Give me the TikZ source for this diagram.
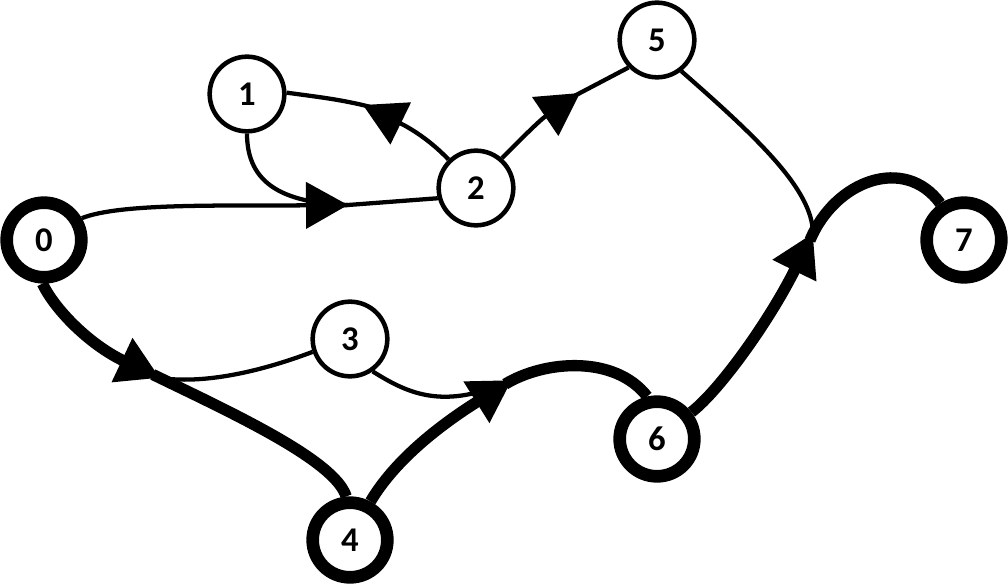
\documentclass[tikz,border=0pt]{standalone}
\usepackage{fontspec}
\setmainfont{Carlito}
\usetikzlibrary{arrows.meta}
\begin{document}
\begin{tikzpicture}[x=0.75pt,y=-0.75pt,
  vert/.style={circle, draw, minimum size=56pt, inner sep=0pt, fill=white,
    font=\fontsize{26}{30}\selectfont\bfseries},
  thinv/.style={vert, line width=3.4pt},
  thickv/.style={vert, line width=9.5pt},
  thinedge/.style={line width=3.2pt},
  thickedge/.style={line width=8.5pt},
  fromtip/.style={shorten <=-6pt},
  arrowend/.style={-{Triangle[length=31.5pt,width=34.5pt]}}]
\useasboundingbox (0,0) rectangle (1008,585);
% nodes
\node[thickv] (n0) at (44,240) {0};
\node[thinv]  (n1) at (247,94) {1};
\node[thinv]  (n2) at (476,188) {2};
\node[thinv]  (n3) at (350,339) {3};
\node[thickv] (n4) at (350,540) {4};
\node[thinv]  (n5) at (657,40) {5};
\node[thickv] (n6) at (657,439) {6};
\node[thickv] (n7) at (964,240) {7};
% junctions (arrow tips)
\coordinate (A) at (348,205);
\coordinate (B) at (363,105);
\coordinate (C) at (580,93);
\coordinate (D) at (813,233);
\coordinate (E) at (160,378);
\coordinate (F) at (512,380);
% thin connectors
\draw[thinedge] (n1.south) .. controls (247,185) and (285,203) .. (A);
\draw[thinedge,fromtip] (A) -- (n2.195);
\draw[thinedge,arrowend] (n0.30) .. controls (120,203) and (220,206) .. (A);
\draw[thinedge,arrowend] (n2.134) .. controls (430,140) and (410,128) .. (B);
\draw[thinedge,fromtip] (B) .. controls (340,99) and (310,96) .. (n1.2);
\draw[thinedge,arrowend] (n2.49) .. controls (520,140) and (540,120) .. (C);
\draw[thinedge,fromtip] (C) -- (n5.224);
\draw[thinedge] (n5.308) .. controls (760,140) and (812,190) .. (D);
\draw[thinedge] (n3.199) .. controls (270,368) and (210,385) .. (E);
\draw[thinedge] (n3.305) .. controls (410,395) and (445,410) .. (F);
% thick connectors
\draw[thickedge,arrowend] (n0.268) .. controls (55,310) and (90,345) .. (E);
\draw[thickedge,fromtip] (E) .. controls (230,412) and (335,460) .. (n4.95);
\draw[thickedge,arrowend] (n4.62) .. controls (395,460) and (440,425) .. (F);
\draw[thickedge,fromtip] (F) .. controls (545,360) and (615,355) .. (n6.103);
\draw[thickedge,arrowend] (n6.38) .. controls (720,390) and (770,320) .. (D);
\draw[thickedge,fromtip] (D) .. controls (835,180) and (905,155) .. (n7.123);
\end{tikzpicture}
\end{document}
